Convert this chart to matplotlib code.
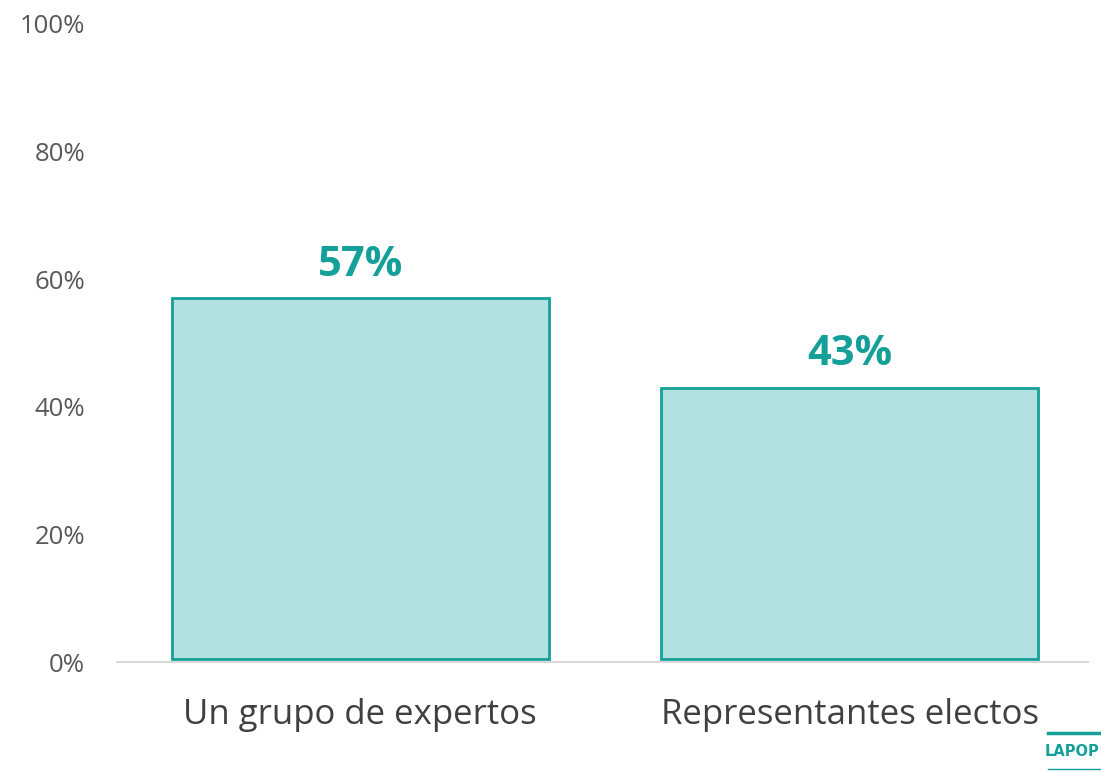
import matplotlib
matplotlib.use("Agg")
import matplotlib.pyplot as plt
from matplotlib.lines import Line2D

categories = ["Un grupo de expertos", "Representantes electos"]
values = [57, 43]
yticks = [0, 20, 40, 60, 80, 100]
ytick_labels = ["0%", "20%", "40%", "60%", "80%", "100%"]

plt.rcParams['font.family'] = ['Open Sans', 'DejaVu Sans']

fig = plt.figure(figsize=(11.01, 7.72), dpi=100)
ax = fig.add_axes([117/1101, 110/772, (1088-117)/1101, 638/772])

x = list(range(len(categories)))
ax.bar(x, [v - 0.4 for v in values], bottom=0.4, width=0.77, color="#B3E0E1", edgecolor="#14A098", linewidth=2)
for xi, v in zip(x, values):
    ax.text(xi, v + 2.0, f"{v}%", ha="center", va="bottom", fontsize=30,
            fontweight="bold", color="#14A098")

ax.set_xlim(-0.497, 1.487)
ax.set_ylim(0, 100)
ax.set_yticks(yticks)
ax.set_yticklabels(ytick_labels, fontsize=18.5, color="#595959")
ax.set_xticks(x)
ax.set_xticklabels(categories, fontsize=25, color="#404040")
ax.tick_params(axis="both", length=0)
ax.tick_params(axis="y", pad=23)
ax.tick_params(axis="x", pad=26)
for s in ["top", "right", "left"]:
    ax.spines[s].set_visible(False)
ax.spines["bottom"].set_color("#D9D9D9")
ax.spines["bottom"].set_linewidth(1.5)

# LAPOP logo
fig.add_artist(Line2D([1048/1101, 1.0], [1-733/772, 1-733/772], color="#14A098", lw=2.5, transform=fig.transFigure))
fig.add_artist(Line2D([1048/1101, 1.0], [1-769/772, 1-769/772], color="#14A098", lw=1, transform=fig.transFigure))
fig.text(1072/1101, 1-751/772, "LAPOP", fontsize=10.5, color="#14A098", ha="center", va="center",
         fontweight="bold", family=["DejaVu Sans"])

fig.savefig("out.png", dpi=100)
